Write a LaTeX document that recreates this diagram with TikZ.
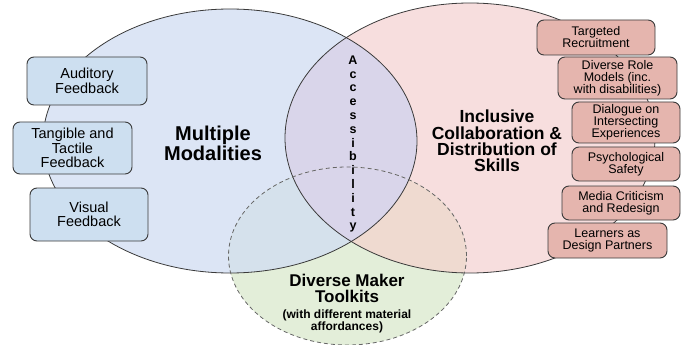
\documentclass[tikz,border=0pt]{standalone}
\usepackage{fontspec}
\setmainfont{Liberation Sans}
\definecolor{blueE}{HTML}{DCE5F5}
\definecolor{pinkE}{HTML}{F7DEDE}
\definecolor{lavE}{HTML}{D9D5EA}
\definecolor{greenE}{HTML}{E3EED9}
\definecolor{bgE}{HTML}{D5E1EC}
\definecolor{pgE}{HTML}{EFDAD0}
\definecolor{lboxfill}{HTML}{CDDFF0}
\definecolor{rboxfill}{HTML}{E5B5AE}
\definecolor{edgecol}{HTML}{3A3A3A}
\tikzset{
  lbox/.style={draw=edgecol, line width=0.9pt, fill=lboxfill, rounded corners=7pt, align=center, inner sep=0pt, font=\fontsize{14.5}{14.5}\selectfont},
  rbox/.style={draw=edgecol, line width=0.9pt, fill=rboxfill, rounded corners=7pt, align=center, inner sep=0pt, font=\fontsize{12.5}{12}\selectfont},
  title/.style={align=center, inner sep=0pt, font=\bfseries},
  outline/.style={draw=edgecol, line width=0.8pt}
}
\begin{document}
\begin{tikzpicture}[x=1pt,y=-1pt]
\useasboundingbox (0,0) rectangle (681,345);
\def\blueEll{(230,141) ellipse [x radius=187pt, y radius=132pt]}
\def\pinkEll{(470,138) ellipse [x radius=185pt, y radius=135pt]}
\def\greenEll{(347.5,256) ellipse [x radius=119pt, y radius=89pt]}
% fills
\fill[blueE] \blueEll;
\fill[pinkE] \pinkEll;
\begin{scope}
  \clip \blueEll;
  \fill[lavE] \pinkEll;
\end{scope}
\fill[greenE] \greenEll;
\begin{scope}
  \clip \greenEll;
  \fill[bgE] \blueEll;
  \fill[pgE] \pinkEll;
  \clip \blueEll;
  \fill[lavE] \pinkEll;
\end{scope}
% outlines
\draw[outline] \blueEll;
\draw[outline] \pinkEll;
\draw[draw=black!60, line width=0.8pt, dash pattern=on 4pt off 3pt] \greenEll;
% titles
\node[title, font=\bfseries\fontsize{20}{20}\selectfont] (mm) at (213,143) {Multiple\\Modalities};
\node[title, font=\bfseries\fontsize{17.5}{16.4}\selectfont] (icd) at (497,141) {Inclusive\\Collaboration \&\\Distribution of\\Skills};
\node[title, font=\bfseries\fontsize{17}{16}\selectfont] (dmt) at (347,303.5) {Diverse Maker\\Toolkits\\{\fontsize{12}{12}\selectfont (with different material}\\[-4pt]{\fontsize{12}{12}\selectfont affordances)}};
\node[title, font=\bfseries\fontsize{12.5}{13.8}\selectfont] (acc) at (353,144) {A\\c\\c\\e\\s\\s\\i\\b\\i\\l\\i\\t\\y};
% left boxes
\node[lbox, minimum width=120pt, minimum height=48pt] (aud) at (87,81) {Auditory\\Feedback};
\node[lbox, minimum width=119pt, minimum height=52pt] (tan) at (72.5,148) {Tangible and\\Tactile\\Feedback};
\node[lbox, minimum width=118pt, minimum height=53pt] (vis) at (89,214.5) {Visual\\Feedback};
% right boxes
\node[rbox, minimum width=118pt, minimum height=35pt] (tr) at (596,37.5) {Targeted\\Recruitment};
\node[rbox, minimum width=119pt, minimum height=42pt] (drm) at (617.5,78) {Diverse Role\\Models (inc.\\with disabilities)};
\node[rbox, minimum width=108pt, minimum height=41pt] (dia) at (626,122.5) {Dialogue on\\Intersecting\\Experiences};
\node[rbox, minimum width=108pt, minimum height=34pt] (psy) at (626,164) {Psychological\\Safety};
\node[rbox, minimum width=118pt, minimum height=34pt] (med) at (621,203) {Media Criticism\\and Redesign};
\node[rbox, minimum width=119pt, minimum height=35pt] (lea) at (607.5,240.5) {Learners as\\Design Partners};
\end{tikzpicture}
\end{document}
